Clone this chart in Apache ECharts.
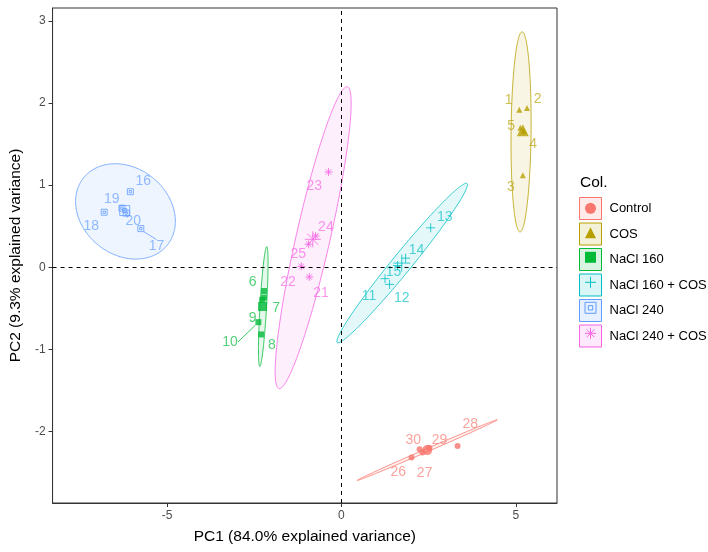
<!DOCTYPE html>
<html>
<head>
<meta charset="utf-8">
<script src="https://cdn.jsdelivr.net/npm/echarts@6/dist/echarts.min.js"></script>
<style>html,body{margin:0;padding:0;background:#fff}#c{width:708px;height:552px}</style>
</head>
<body>
<div id="c"></div>
<script>
// ---------------- data ----------------
const groups = ['Control', 'COS', 'NaCl 160', 'NaCl 160 + COS', 'NaCl 240', 'NaCl 240 + COS'];

const controlIds = [26, 27, 28, 29, 30];
const controlPC1 = [2.01, 2.32, 3.33, 2.52, 2.24];
const controlPC2 = [-2.32, -2.26, -2.18, -2.20, -2.22];

const cosIds = [1, 2, 3, 4, 5];
const cosPC1 = [5.10, 5.32, 5.20, 5.23, 5.13];
const cosPC2 = [1.92, 1.94, 1.12, 1.66, 1.70];

const nacl160Ids = [6, 7, 8, 9, 10];
const nacl160PC1 = [-2.22, -2.22, -2.30, -2.27, -2.38];
const nacl160PC2 = [-0.29, -0.37, -0.82, -0.40, -0.67];

const nacl160CosIds = [11, 12, 13, 14, 15];
const nacl160CosPC1 = [1.25, 1.38, 2.56, 1.84, 1.61];
const nacl160CosPC2 = [-0.14, -0.21, 0.48, 0.11, 0.02];

const nacl240Ids = [16, 17, 18, 19, 20];
const nacl240PC1 = [-6.05, -5.75, -6.80, -6.29, -6.17];
const nacl240PC2 = [0.92, 0.47, 0.67, 0.72, 0.66];

const nacl240CosIds = [21, 22, 23, 24, 25];
const nacl240CosPC1 = [-0.92, -1.15, -0.37, -0.74, -0.94];
const nacl240CosPC2 = [-0.12, 0.01, 1.16, 0.38, 0.28];

// group centroids (large symbols)
const centroidPC1 = [2.46, 5.20, -2.26, 1.73, -6.21, -0.82];
const centroidPC2 = [-2.23, 1.67, -0.48, 0.05, 0.69, 0.34];

// confidence ellipses: centre, tip of major semi-axis, minor/major ratio
const ellipseCenterPC1 = [2.46, 5.15, -2.24, 1.74, -6.19, -0.81];
const ellipseCenterPC2 = [-2.23, 1.65, -0.48, 0.05, 0.68, 0.36];
const ellipseTipPC1 = [4.47, 5.18, -2.14, 3.60, -4.99, 0.17];
const ellipseTipPC2 = [-1.86, 2.87, 0.25, 1.02, 0.27, 2.20];
const ellipseMinorRatio = [0.02, 0.10, 0.055, 0.094, 0.807, 0.11];

const xTicks = [-5, 0, 5];
const yTicks = [-2, -1, 0, 1, 2, 3];

const groupIds = [controlIds, cosIds, nacl160Ids, nacl160CosIds, nacl240Ids, nacl240CosIds];
const groupPC1 = [controlPC1, cosPC1, nacl160PC1, nacl160CosPC1, nacl240PC1, nacl240CosPC1];
const groupPC2 = [controlPC2, cosPC2, nacl160PC2, nacl160CosPC2, nacl240PC2, nacl240CosPC2];

// ---------------- styles ----------------
const colors = ['#F8766D', '#B79F00', '#00BA38', '#00BFC4', '#619CFF', '#F564E3'];
const PLUS = 'path://M0,5H10M5,0V10';
const BOX = 'path://M0,0H10V10H0ZM3,3H7V7H3Z';
const AST = 'path://M0,5H10M5,0V10M1.5,1.5L8.5,8.5M1.5,8.5L8.5,1.5';
const symbols = ['circle', 'triangle', 'rect', PLUS, BOX, AST];
const filled = [true, true, true, false, false, false];
const pointSize = [6, 6, 6, 9, 6, 8];
const centroidSize = [10, 12, 9, 17, 10, 16];
// label offsets (px) relative to the point, as placed by the repel algorithm
const labelOffsets = {
  1: [-10.7, -9.3], 2: [10.6, -8.7], 3: [-12, 11.7], 4: [9.2, 13], 5: [-9.3, -2],
  6: [-11.4, -8.8], 7: [12.2, 10.3], 8: [10.6, 11], 9: [-9.7, 18.3], 10: [-28.3, 20],
  11: [-16, 17.7], 12: [12.3, 14], 13: [14, -11], 14: [11, -8], 15: [-4, 7],
  16: [13, -10.7], 17: [15.7, 18], 18: [-13, 14.4], 19: [-10.3, -8.7], 20: [7.1, 8.2],
  21: [11.6, 16.6], 22: [-13.3, 15.7], 23: [-14.3, 14.4], 24: [10.3, -8.7], 25: [-10.3, 10.3],
  26: [-13.3, 15], 27: [2.3, 20.3], 28: [12.6, -21.7], 29: [10.3, -7], 30: [-6.3, -9]
};
const leaderIds = [10, 17];
const FONT = '"Liberation Sans", Arial, Helvetica, sans-serif';

function rgba(hex, a) {
  const n = parseInt(hex.slice(1), 16);
  return 'rgba(' + (n >> 16 & 255) + ',' + (n >> 8 & 255) + ',' + (n & 255) + ',' + a + ')';
}
function symStyle(i) {
  return filled[i]
    ? { color: colors[i] }
    : { color: 'rgba(0,0,0,0)', borderColor: colors[i], borderWidth: 1 };
}

const series = [];
// ellipses
groups.forEach((g, i) => {
  series.push({
    type: 'custom', name: g, z: 1, silent: true,
    data: [[ellipseCenterPC1[i], ellipseCenterPC2[i], ellipseTipPC1[i], ellipseTipPC2[i], ellipseMinorRatio[i]]],
    renderItem: (params, api) => {
      const c = api.coord([api.value(0), api.value(1)]);
      const t = api.coord([api.value(2), api.value(3)]);
      const r = api.value(4);
      const ux = t[0] - c[0], uy = t[1] - c[1];
      const vx = -uy * r, vy = ux * r;
      const pts = [];
      for (let k = 0; k < 240; k++) {
        const a = k / 240 * Math.PI * 2;
        pts.push([c[0] + ux * Math.cos(a) + vx * Math.sin(a), c[1] + uy * Math.cos(a) + vy * Math.sin(a)]);
      }
      return { type: 'polygon', shape: { points: pts }, style: { fill: rgba(colors[i], 0.1), stroke: colors[i], lineWidth: 0.8 } };
    }
  });
});
// reference lines
series.push({
  type: 'scatter', name: '_ref', data: [], z: 2, silent: true,
  markLine: {
    silent: true, symbol: 'none', label: { show: false },
    lineStyle: { type: [4, 4], color: '#000', width: 1 },
    data: [{ xAxis: 0 }, { yAxis: 0 }]
  }
});
// points
groups.forEach((g, i) => {
  const ids = groupIds[i];
  series.push({
    type: 'scatter', name: g, z: 3,
    symbol: symbols[i], symbolSize: pointSize[i],
    itemStyle: symStyle(i),
    data: ids.map((id, k) => ({
      value: [groupPC1[i][k], groupPC2[i][k]], name: String(id),
      labelLine: { show: leaderIds.indexOf(id) >= 0, lineStyle: { color: colors[i], width: 0.8 } }
    })),
    label: { show: true, position: 'inside', formatter: p => p.name, color: rgba(colors[i], 0.85), fontSize: 14, fontFamily: FONT },
    labelLine: { show: false, smooth: false, length2: 0 },
    labelLayout: p => { const o = labelOffsets[ids[p.dataIndex]]; return { dx: o[0], dy: o[1] }; },
    emphasis: { disabled: true }
  });
  series.push({
    type: 'scatter', name: g, z: 4,
    symbol: symbols[i], symbolSize: centroidSize[i],
    itemStyle: symStyle(i),
    data: [[centroidPC1[i], centroidPC2[i]]],
    emphasis: { disabled: true }
  });
});

const option = {
  animation: false,
  textStyle: { fontFamily: FONT },
  title: { text: 'Col.', left: 580, top: 175, padding: 0, textStyle: { fontSize: 15.5, fontWeight: 'normal', color: '#000', fontFamily: FONT } },
  legend: [
    {
      orient: 'vertical', left: 579, top: 197, padding: 0, itemWidth: 22, itemHeight: 22, itemGap: 2.5,
      selectedMode: false,
      textStyle: { fontSize: 13, color: '#000', padding: [0, 0, 0, 3], fontFamily: FONT },
      data: groups.map((g, i) => ({ name: g, icon: 'rect', itemStyle: { color: rgba(colors[i], 0.15), borderColor: colors[i], borderWidth: 1 } }))
    },
    {
      orient: 'vertical', left: 584.5, top: 202.8, padding: 0, itemWidth: 11, itemHeight: 11, itemGap: 13.5,
      selectedMode: false, formatter: () => '',
      textStyle: { fontSize: 6, lineHeight: 6 },
      data: groups.map((g, i) => ({ name: g, icon: symbols[i], itemStyle: symStyle(i) }))
    }
  ],
  grid: { left: 47, right: 151, top: 8, bottom: 49, show: true, borderColor: '#333', borderWidth: 1, backgroundColor: 'transparent' },
  xAxis: {
    type: 'value', min: -8.28, max: 6.18,
    name: 'PC1 (84.0% explained variance)', nameLocation: 'middle', nameGap: 26,
    nameTextStyle: { fontSize: 15.5, color: '#000', fontFamily: FONT },
    splitLine: { show: false },
    axisLine: { show: true, onZero: false, lineStyle: { color: '#333' } },
    axisTick: { show: true, length: 4, lineStyle: { color: '#333' }, customValues: xTicks },
    axisLabel: { customValues: xTicks, color: '#4d4d4d', fontSize: 12, margin: 7, fontFamily: FONT }
  },
  yAxis: {
    type: 'value', min: -2.875, max: 3.16,
    name: 'PC2 (9.3% explained variance)', nameLocation: 'middle', nameGap: 26, nameRotate: 90,
    nameTextStyle: { fontSize: 15.5, color: '#000', fontFamily: FONT },
    splitLine: { show: false },
    axisLine: { show: true, onZero: false, lineStyle: { color: '#333' } },
    axisTick: { show: true, length: 4, lineStyle: { color: '#333' }, customValues: yTicks },
    axisLabel: { customValues: yTicks, color: '#4d4d4d', fontSize: 12, margin: 7, fontFamily: FONT }
  },
  series: series
};
const chart = echarts.init(document.getElementById('c'), null, { renderer: 'canvas' });
chart.setOption(option);
</script>
</body>
</html>
